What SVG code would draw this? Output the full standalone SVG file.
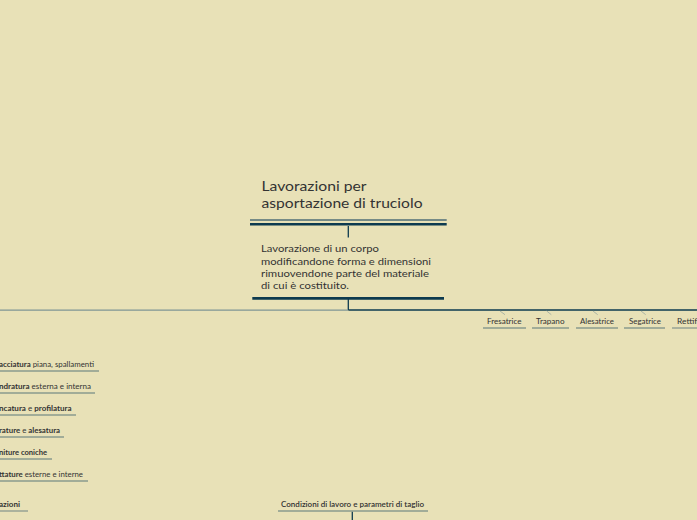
<svg xmlns="http://www.w3.org/2000/svg" width="697" height="520" viewBox="0 0 697 520">
<style>
.t{font-family:"Lato","Noto Sans","Liberation Sans",sans-serif;fill:#333333}
.title{font-size:13.5px}
.desc{font-size:10px}
.sm{font-size:7px}
.b{font-weight:bold}
.ul{stroke:#8a9a8e;stroke-width:1.3;fill:none}
.dk{stroke:#0d3a4f;fill:none}
.gr{stroke:#7f9595;stroke-width:1.2;fill:none}
.tick{stroke:#9aa8a0;stroke-width:0.8}
</style>
<rect width="697" height="520" fill="#e8e1b7"/>
<g id="connectors">
<line class="dk" x1="348.3" y1="226" x2="348.3" y2="237.5" stroke-width="1.3"/>
<line class="dk" x1="348.3" y1="299" x2="348.3" y2="310" stroke-width="1.3"/>
<line class="dk" x1="348.3" y1="310" x2="697" y2="310" stroke-width="1.4"/>
<line class="gr" x1="0" y1="310.2" x2="348" y2="310.2"/>
<line class="tick" x1="500" y1="311" x2="505" y2="314.7"/>
<line class="tick" x1="546.7" y1="311" x2="551.3" y2="314.7"/>
<line class="tick" x1="593" y1="311" x2="597.7" y2="314.7"/>
<line class="tick" x1="641" y1="311" x2="645.7" y2="314.7"/>
<line class="dk" x1="352.3" y1="511.5" x2="352.3" y2="520" stroke-width="1.3"/>
</g>
<g id="root">
<text class="t title" x="261.5" y="191" textLength="105" lengthAdjust="spacingAndGlyphs">Lavorazioni per</text>
<text class="t title" x="261.5" y="208" textLength="161" lengthAdjust="spacingAndGlyphs">asportazione di truciolo</text>
<line x1="250" y1="220" x2="446.7" y2="220" stroke="#4f6c76" stroke-width="1.3"/>
<line class="dk" x1="250" y1="224.3" x2="446.7" y2="224.3" stroke-width="2.4"/>
</g>
<g id="description">
<text class="t desc" x="261" y="252.3" textLength="118" lengthAdjust="spacingAndGlyphs">Lavorazione di un corpo</text>
<text class="t desc" x="261" y="264.6" textLength="170" lengthAdjust="spacingAndGlyphs">modificandone forma e dimensioni</text>
<text class="t desc" x="261" y="276.9" textLength="168" lengthAdjust="spacingAndGlyphs">rimuovendone parte del materiale</text>
<text class="t desc" x="261" y="289.2" textLength="88" lengthAdjust="spacingAndGlyphs">di cui è costituito.</text>
<line class="dk" x1="252.3" y1="298.3" x2="444" y2="298.3" stroke-width="2.7"/>
</g>
<g id="fresatrice">
<text class="t sm" x="487" y="323.5" textLength="34.5" lengthAdjust="spacingAndGlyphs">Fresatrice</text>
<line class="ul" x1="483" y1="328" x2="526" y2="328"/>
</g>
<g id="trapano">
<text class="t sm" x="536" y="323.5" textLength="28.5" lengthAdjust="spacingAndGlyphs">Trapano</text>
<line class="ul" x1="532" y1="328" x2="569" y2="328"/>
</g>
<g id="alesatrice">
<text class="t sm" x="580" y="323.5" textLength="34" lengthAdjust="spacingAndGlyphs">Alesatrice</text>
<line class="ul" x1="576" y1="328" x2="618" y2="328"/>
</g>
<g id="segatrice">
<text class="t sm" x="629" y="323.5" textLength="32" lengthAdjust="spacingAndGlyphs">Segatrice</text>
<line class="ul" x1="624" y1="328" x2="665" y2="328"/>
</g>
<g id="rettifi">
<text class="t sm" x="677" y="323.5" textLength="22" lengthAdjust="spacingAndGlyphs">Rettifi</text>
<line class="ul" x1="672" y1="328" x2="697" y2="328"/>
</g>
<g id="item1">
<text class="t sm" x="-1" y="367" textLength="95" lengthAdjust="spacingAndGlyphs"><tspan class="b">acciatura</tspan> piana, spallamenti</text>
<line class="ul" x1="0" y1="371" x2="99" y2="371"/>
</g>
<g id="item2">
<text class="t sm" x="-1" y="389" textLength="92" lengthAdjust="spacingAndGlyphs"><tspan class="b">ndratura</tspan> esterna e interna</text>
<line class="ul" x1="0" y1="393" x2="95" y2="393"/>
</g>
<g id="item3">
<text class="t sm" x="-1" y="411" textLength="72.5" lengthAdjust="spacingAndGlyphs"><tspan class="b">ncatura</tspan> e <tspan class="b">profilatura</tspan></text>
<line class="ul" x1="0" y1="415" x2="76" y2="415"/>
</g>
<g id="item4">
<text class="t sm" x="-1" y="433" textLength="61" lengthAdjust="spacingAndGlyphs"><tspan class="b">rature</tspan> e <tspan class="b">alesatura</tspan></text>
<line class="ul" x1="0" y1="437" x2="64" y2="437"/>
</g>
<g id="item5">
<text class="t sm b" x="-1" y="455" textLength="48" lengthAdjust="spacingAndGlyphs">niture coniche</text>
<line class="ul" x1="0" y1="459" x2="52" y2="459"/>
</g>
<g id="item6">
<text class="t sm" x="-1" y="477" textLength="84" lengthAdjust="spacingAndGlyphs"><tspan class="b">ttature</tspan> esterne e interne</text>
<line class="ul" x1="0" y1="481" x2="88" y2="481"/>
</g>
<g id="lavorazioni">
<text class="t sm b" x="-1" y="507" textLength="21" lengthAdjust="spacingAndGlyphs">azioni</text>
<line class="ul" x1="0" y1="511" x2="28" y2="511"/>
</g>
<g id="condizioni">
<text class="t sm" x="281" y="507" textLength="143" lengthAdjust="spacingAndGlyphs" font-weight="600">Condizioni di lavoro e parametri di taglio</text>
<line class="ul" x1="278" y1="511" x2="428" y2="511"/>
</g>
</svg>
